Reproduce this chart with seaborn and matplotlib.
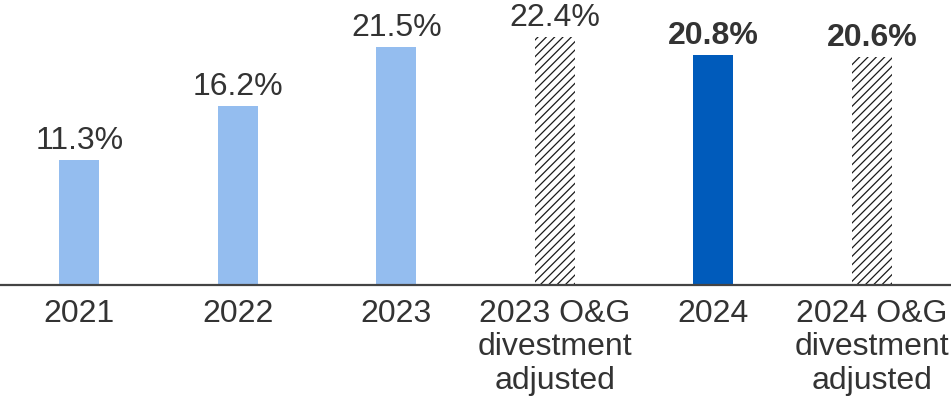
import matplotlib
matplotlib.use("Agg")
import matplotlib.pyplot as plt
import seaborn as sns
import pandas as pd

# Margin by year, with O&G divestment-adjusted figures
categories = ["2021", "2022", "2023", "2023 O&G\ndivestment\nadjusted",
              "2024", "2024 O&G\ndivestment\nadjusted"]
values = [11.3, 16.2, 21.5, 22.4, 20.8, 20.6]
value_labels = ["11.3%", "16.2%", "21.5%", "22.4%", "20.8%", "20.6%"]
bold_labels = [False, False, False, False, True, True]
adjusted = [False, False, False, True, False, True]

LIGHT_BLUE = "#94BDEF"
DARK_BLUE = "#005BBB"
TEXT = "#333333"

colors = [LIGHT_BLUE, LIGHT_BLUE, LIGHT_BLUE, "white", DARK_BLUE, "white"]

sns.set_theme(style="white")
plt.rcParams["font.family"] = ["Liberation Sans", "DejaVu Sans"]
plt.rcParams["hatch.linewidth"] = 0.9
plt.rcParams["hatch.color"] = "#1a1a1a"

df = pd.DataFrame({"category": categories, "value": values})

fig = plt.figure(figsize=(9.51, 3.96), dpi=100)
ax = fig.add_axes([0.0, 0.28, 1.0, 0.72])

sns.barplot(data=df, x="category", y="value", hue="category",
            palette=dict(zip(categories, colors)), width=0.25,
            legend=False, ax=ax, saturation=1)

for patch, adj in zip(ax.patches, adjusted):
    patch.set_linewidth(0)
    if adj:
        patch.set_hatch("////")
        patch.set_edgecolor("#1a1a1a")

for i, (v, lab, b) in enumerate(zip(values, value_labels, bold_labels)):
    ax.annotate(lab, xy=(i, v), xytext=(0, 8), textcoords="offset points",
                ha="center", va="baseline", fontsize=23, color=TEXT,
                fontweight="bold" if b else "normal")

ax.set_xlim(-0.5, 5.5)
ax.set_ylim(0, 25.77)
ax.set_xlabel("")
ax.set_ylabel("")
ax.set_yticks([])
for side in ["top", "right", "left"]:
    ax.spines[side].set_visible(False)
ax.spines["bottom"].set_color("#444444")
ax.spines["bottom"].set_linewidth(1.6)
ax.tick_params(axis="x", length=0, pad=10, labelsize=23, labelcolor=TEXT)
for t in ax.get_xticklabels():
    t.set_linespacing(1.15)

fig.savefig("out.png", dpi=100)
